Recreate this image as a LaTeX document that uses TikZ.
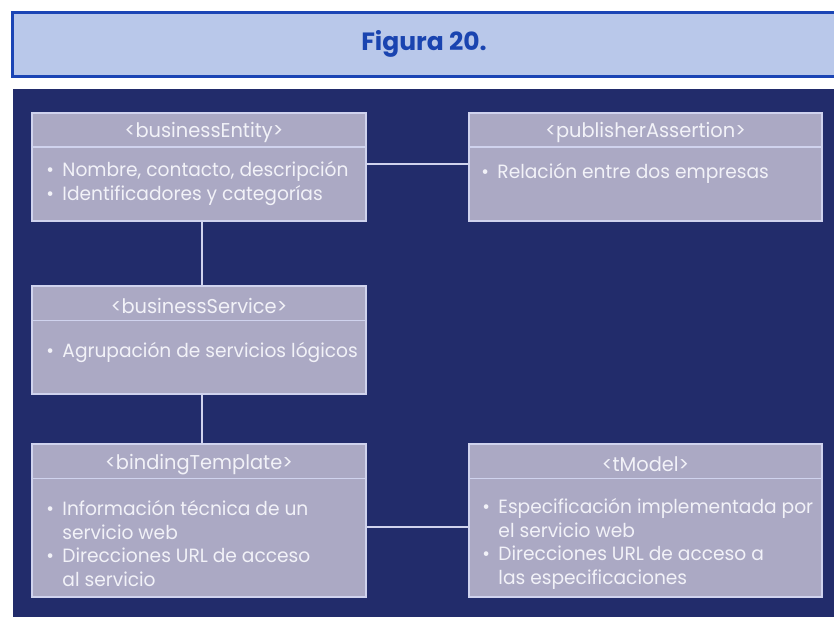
\documentclass[tikz,border=0pt]{standalone}
\usepackage{fontspec}
\setmainfont{Poppins}
\newfontfamily\boxfont[FakeStretch=0.97]{Poppins}
\usetikzlibrary{calc}
\definecolor{bannerfill}{HTML}{B9C8EA}
\definecolor{bannerline}{HTML}{1B45B5}
\definecolor{titleblue}{HTML}{1A44B0}
\definecolor{panel}{HTML}{222C6B}
\definecolor{boxfill}{HTML}{ABA9C4}
\definecolor{boxline}{HTML}{D0D3EE}
\definecolor{boxtext}{HTML}{F2F2F8}
\newcommand\bul{\makebox[16pt][l]{•}}
\newcommand\ind{\hspace*{16pt}}
\begin{document}
\begin{tikzpicture}[x=1pt,y=-1pt,
  umlbox/.style={draw=boxline, fill=boxfill, line width=1.5pt, inner sep=0pt, rectangle},
  hdrline/.style={draw=boxline, line width=1.5pt},
  conn/.style={draw=boxline, line width=1.5pt},
  hdr/.style={text=boxtext, font=\boxfont\fontsize{20}{23}\selectfont, inner sep=0pt, anchor=center},
  body/.style={text=boxtext, font=\boxfont\fontsize{19.2}{23.5}\selectfont, inner sep=0pt, anchor=north west, align=left}
]
\useasboundingbox (0,0) rectangle (834,617);
\begin{scope}
\clip (0,0) rectangle (834,617);
\fill[panel] (13,89) rectangle (840,620);
\draw[fill=bannerfill, draw=bannerline, line width=2.8pt] (12.4,12.4) rectangle (845,76.6);
\end{scope}
\node[font=\bfseries\fontsize{25}{28}\selectfont, text=titleblue, inner sep=0pt] (title) at (424,44) {Figura 20.};

% boxes
\node[umlbox, minimum width=334pt, minimum height=108pt] (be) at (199,167) {};
\node[umlbox, minimum width=353pt, minimum height=108pt] (pa) at (645.5,167) {};
\node[umlbox, minimum width=334pt, minimum height=108pt] (bs) at (199,340) {};
\node[umlbox, minimum width=334pt, minimum height=153pt] (bt) at (199,520.5) {};
\node[umlbox, minimum width=353pt, minimum height=153pt] (tm) at (645.5,520.5) {};

% header lines
\foreach \b in {be,pa,bs,bt,tm}{
  \draw[hdrline] ($(\b.north west)+(0,35)$) -- ($(\b.north east)+(0,35)$);
}

% headers
\node[hdr] (beh) at ($(be.north)+(5,20.5)$) {<businessEntity>};
\node[hdr] (pah) at ($(pa.north)+(0,20.5)$) {<publisherAssertion>};
\node[hdr] (bsh) at ($(bs.north)+(0,20.5)$) {<businessService>};
\node[hdr] (bth) at ($(bt.north)+(0,21)$) {<bindingTemplate>};
\node[hdr] (tmh) at ($(tm.north)+(0,21)$) {<tModel>};

% bodies
\node[body] (beb) at ($(be.north west)+(15,49)$) {\bul Nombre, contacto, descripción\\\bul Identificadores y categorías};
\node[body] (pab) at ($(pa.north west)+(13,51)$) {\bul Relación entre dos empresas};
\node[body] (bsb) at ($(bs.north west)+(15,57)$) {\bul Agrupación de servicios lógicos};
\node[body] (btb) at ($(bt.north west)+(15,57)$) {\bul Información técnica de un\\\ind servicio web\\\bul Direcciones URL de acceso\\\ind al servicio};
\node[body] (tmb) at ($(tm.north west)+(14,55)$) {\bul Especificación implementada por\\\ind el servicio web\\\bul Direcciones URL de acceso a\\\ind las especificaciones};

% connectors
\draw[conn] ([yshift=3pt]be.east) -- ([yshift=3pt]pa.west);
\draw[conn] ([xshift=3pt]be.south) -- ([xshift=3pt]bs.north);
\draw[conn] ([xshift=3pt]bs.south) -- ([xshift=3pt]bt.north);
\draw[conn] ([yshift=-6.5pt]bt.east) -- ([yshift=-6.5pt]tm.west);
\end{tikzpicture}
\end{document}
